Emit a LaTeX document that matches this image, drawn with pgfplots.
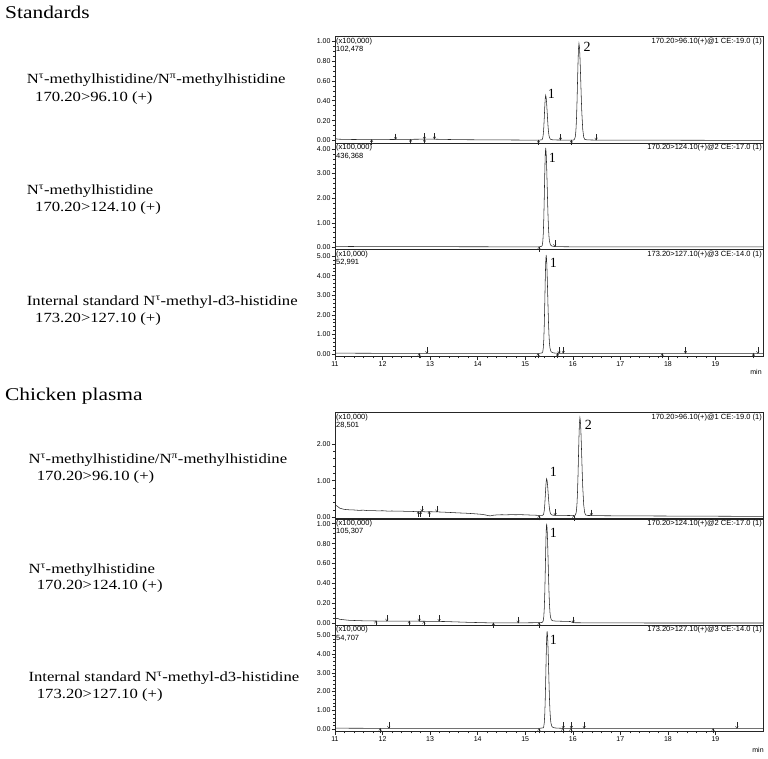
\documentclass[border=0pt]{standalone}
\usepackage{fontspec}
\setmainfont{Liberation Serif}[FakeStretch=1.19]
\newfontfamily\plainserif{Liberation Serif}
\newfontfamily\sansf{Liberation Sans}
\usepackage{pgfplots}
\pgfplotsset{compat=1.18}

\pgfdeclareplotmark{darr}{%
  \pgfpathmoveto{\pgfqpoint{0pt}{6pt}}\pgfpathlineto{\pgfqpoint{0pt}{0.2pt}}\pgfusepathqstroke
  \pgfpathmoveto{\pgfqpoint{-1.3pt}{2.3pt}}\pgfpathlineto{\pgfqpoint{0pt}{0pt}}\pgfpathlineto{\pgfqpoint{1.3pt}{2.3pt}}\pgfusepathqstroke}
\pgfdeclareplotmark{uarr}{%
  \pgfpathmoveto{\pgfqpoint{0pt}{-5pt}}\pgfpathlineto{\pgfqpoint{0pt}{-0.2pt}}\pgfusepathqstroke
  \pgfpathmoveto{\pgfqpoint{-1.3pt}{-2.3pt}}\pgfpathlineto{\pgfqpoint{0pt}{0pt}}\pgfpathlineto{\pgfqpoint{1.3pt}{-2.3pt}}\pgfusepathqstroke}

\tikzset{
  curve/.style={black!85, line width=0.55pt},
  arr/.style={only marks, mark options={black!85, line width=0.4pt}},
  pk/.style={font=\plainserif\fontsize{14}{14}\selectfont, inner sep=0pt},
  tl/.style={font=\sansf\fontsize{7.5}{8.5}\selectfont, align=left, inner sep=1pt, anchor=north west},
  tr/.style={font=\sansf\fontsize{7.5}{8.5}\selectfont, inner sep=1pt, anchor=north east},
  lab/.style={anchor=base west, inner sep=0pt, font=\fontsize{14}{14}\selectfont},
  ttl/.style={anchor=base west, inner sep=0pt, font=\fontsize{18}{18}\selectfont},
}
\pgfplotsset{
  chrom/.style={
    scale only axis, width=428pt, height=106.3pt, xmin=11, xmax=20,
    anchor=south west, clip=false,
    axis line style={black!85, line width=0.5pt},
    tick align=outside, ytick pos=left, xtick pos=bottom,
    major tick length=3.5pt, minor tick length=1.8pt,
    every tick/.style={black!85, line width=0.4pt},
    /pgf/number format/assume math mode=true,
    yticklabel style={font=\sansf\fontsize{7}{8}\selectfont, inner sep=0.8pt,
      /pgf/number format/.cd, fixed, fixed zerofill, precision=2},
    xtick=\empty,
  },
  bottomx/.style={
    xtick={11,12,...,19}, minor x tick num=4,
    xticklabel style={font=\sansf\fontsize{7}{8}\selectfont, inner sep=1.5pt},
  },
}

\begin{document}
\begin{tikzpicture}
\useasboundingbox (0,0) rectangle (768pt,758pt);

% ---------- left labels ----------
\node[ttl] at (5pt,739.7pt) {Standards};
\node[lab] at (26.7pt,674pt) {N\textsuperscript{τ}-methylhistidine/N\textsuperscript{π}-methylhistidine};
\node[lab] at (35pt,656.3pt) {170.20>96.10 (+)};
\node[lab] at (26.7pt,563pt) {N\textsuperscript{τ}-methylhistidine};
\node[lab] at (35pt,546.3pt) {170.20>124.10 (+)};
\node[lab] at (26.7pt,452pt) {Internal standard N\textsuperscript{τ}-methyl-d3-histidine};
\node[lab] at (35pt,435.3pt) {173.20>127.10 (+)};

\node[ttl] at (5pt,357pt) {Chicken plasma};
\node[lab] at (28.3pt,294.7pt) {N\textsuperscript{τ}-methylhistidine/N\textsuperscript{π}-methylhistidine};
\node[lab] at (36.7pt,277pt) {170.20>96.10 (+)};
\node[lab] at (28.3pt,184.7pt) {N\textsuperscript{τ}-methylhistidine};
\node[lab] at (36.7pt,168pt) {170.20>124.10 (+)};
\node[lab] at (28.3pt,76.3pt) {Internal standard N\textsuperscript{τ}-methyl-d3-histidine};
\node[lab] at (36.7pt,59.7pt) {173.20>127.10 (+)};

% ---------- Panel 1 ----------
\begin{axis}[chrom, at={(335pt,615pt)}, ymin=-0.0251, ymax=1.0432,
  ytick={0,0.2,0.4,0.6,0.8,1.0}, minor y tick num=3]
\addplot[curve] coordinates {
(11.00,0.020)(11.03,0.016)(11.08,0.013)(11.2,0.011)(11.4,0.010)(11.6,0.009)(11.8,0.009)(12.0,0.009)
(12.2,0.010)(12.4,0.011)(12.6,0.012)(12.8,0.013)(13.0,0.014)(13.2,0.012)(13.4,0.010)(13.7,0.008)
(14.0,0.007)(14.4,0.006)(14.8,0.005)(15.1,0.004)(15.3,0.004)
(15.35,0.007)(15.36,0.013)(15.37,0.029)(15.38,0.065)(15.39,0.129)(15.40,0.223)(15.41,0.331)
(15.42,0.419)(15.43,0.454)(15.44,0.432)(15.45,0.375)(15.46,0.297)(15.47,0.214)(15.48,0.141)
(15.49,0.086)(15.50,0.050)(15.51,0.029)(15.53,0.013)(15.56,0.008)(15.60,0.006)(15.68,0.005)
(15.80,0.004)(16.00,0.004)
(16.03,0.008)(16.05,0.031)(16.06,0.068)(16.07,0.135)(16.08,0.245)(16.09,0.403)(16.10,0.593)
(16.11,0.781)(16.12,0.922)(16.13,0.974)(16.14,0.941)(16.15,0.849)(16.16,0.714)(16.17,0.562)
(16.18,0.412)(16.19,0.283)(16.21,0.110)(16.23,0.034)(16.25,0.012)(16.30,0.006)(16.50,0.004)
(17.0,0.003)(18.0,0.003)(19.0,0.002)(20.0,0.002)};
\addplot[arr, mark=darr] coordinates {(12.275,0.010)(12.88,0.013)(13.09,0.014)(15.74,0.004)(16.49,0.004)};
\addplot[arr, mark=uarr] coordinates {(11.77,0.009)(12.59,0.012)(12.88,0.013)(15.28,0.004)(15.97,0.004)};
\node[pk] at (axis cs:15.55,0.47) {1};
\node[pk] at (axis cs:16.30,0.94) {2};
\node[tl] at (rel axis cs:0,1) {(x100,000)\\102,478};
\node[tr] at (rel axis cs:1,1) {170.20>96.10(+)@1 CE:-19.0 (1)};
\end{axis}

% ---------- Panel 2 ----------
\begin{axis}[chrom, at={(335pt,508.7pt)}, ymin=-0.081, ymax=4.244,
  ytick={0,1,2,3,4}, minor y tick num=4]
\addplot[curve] coordinates {
(11.00,0.045)(11.05,0.040)(11.2,0.035)(11.5,0.030)(12,0.028)(12.5,0.026)(13,0.025)(13.5,0.024)
(14,0.022)(14.5,0.021)(15,0.020)(15.3,0.020)
(15.35,0.044)(15.36,0.100)(15.37,0.245)(15.38,0.563)(15.39,1.138)(15.40,1.978)(15.41,2.938)
(15.42,3.730)(15.43,4.040)(15.44,3.847)(15.45,3.337)(15.46,2.633)(15.47,1.893)(15.48,1.246)
(15.49,0.756)(15.50,0.434)(15.51,0.245)(15.53,0.100)(15.56,0.052)(15.60,0.036)(15.68,0.026)
(16.0,0.020)(17,0.018)(18,0.016)(19,0.015)(20,0.015)};
\addplot[arr, mark=darr] coordinates {(15.62,0.034)};
\addplot[arr, mark=uarr] coordinates {(15.29,0.020)};
\node[pk] at (axis cs:15.57,3.63) {1};
\node[tl] at (rel axis cs:0,1) {(x100,000)\\436,368};
\node[tr] at (rel axis cs:1,1) {170.20>124.10(+)@2 CE:-17.0 (1)};
\end{axis}

% ---------- Panel 3 ----------
\begin{axis}[chrom, bottomx, at={(335pt,401.5pt)}, height=107pt, ymin=-0.128, ymax=5.332,
  ytick={0,1,2,3,4,5}, minor y tick num=4]
\addplot[curve] coordinates {
(11,0.045)(11.5,0.038)(12,0.035)(13,0.034)(14,0.033)(15,0.032)(15.3,0.032)
(15.36,0.060)(15.37,0.130)(15.38,0.311)(15.39,0.708)(15.40,1.426)(15.41,2.475)(15.42,3.675)
(15.43,4.663)(15.44,5.050)(15.45,4.809)(15.46,4.172)(15.47,3.293)(15.48,2.369)(15.49,1.561)
(15.50,0.949)(15.51,0.547)(15.52,0.311)(15.54,0.130)(15.57,0.070)(15.61,0.050)(15.69,0.038)
(15.8,0.035)(16.5,0.032)(17.5,0.031)(18.5,0.030)(19.5,0.030)(20,0.030)};
\addplot[arr, mark=darr] coordinates {(12.93,0.034)(15.71,0.038)(15.80,0.035)(18.37,0.030)(19.89,0.030)};
\addplot[arr, mark=uarr] coordinates {(12.77,0.034)(15.27,0.032)(15.68,0.038)(17.88,0.030)(19.80,0.030)};
\node[pk] at (axis cs:15.59,4.63) {1};
\node[tl] at (rel axis cs:0,1) {(x10,000)\\52,991};
\node[tr] at (rel axis cs:1,1) {173.20>127.10(+)@3 CE:-14.0 (1)};
\end{axis}
\node[font=\sansf\fontsize{7}{8}\selectfont] at (756pt,386pt) {min};

% ---------- Panel 4 ----------
\begin{axis}[chrom, at={(335pt,239pt)}, ymin=-0.046, ymax=2.854,
  ytick={0,1,2}, minor y tick num=4]
\addplot[curve] coordinates {
(11.00,0.30)(11.03,0.32)(11.06,0.29)(11.10,0.25)(11.15,0.23)(11.2,0.215)(11.3,0.205)(11.4,0.20)
(11.5,0.19)(11.6,0.195)(11.7,0.18)(11.8,0.185)(11.9,0.175)(12.0,0.18)(12.1,0.17)(12.2,0.172)
(12.3,0.168)(12.4,0.17)(12.5,0.16)(12.6,0.162)(12.7,0.155)(12.8,0.158)(12.9,0.15)(13.0,0.152)
(13.1,0.15)(13.2,0.145)(13.3,0.14)(13.45,0.13)(13.6,0.12)(13.75,0.112)(13.9,0.10)(14.0,0.09)
(14.1,0.08)(14.18,0.06)(14.22,0.045)(14.27,0.04)(14.32,0.055)(14.4,0.065)(14.5,0.07)(14.6,0.068)
(14.7,0.072)(14.8,0.07)(14.9,0.072)(15.0,0.068)(15.1,0.062)(15.2,0.058)(15.3,0.052)
(15.37,0.056)(15.38,0.070)(15.39,0.106)(15.40,0.185)(15.41,0.328)(15.42,0.537)(15.43,0.776)
(15.44,0.973)(15.45,1.050)(15.46,1.002)(15.47,0.875)(15.48,0.700)(15.49,0.516)(15.50,0.355)
(15.51,0.233)(15.52,0.153)(15.53,0.106)(15.55,0.070)(15.58,0.058)(15.62,0.054)(15.70,0.052)
(15.9,0.050)(16.0,0.047)
(16.05,0.056)(16.07,0.120)(16.08,0.221)(16.09,0.405)(16.10,0.710)(16.11,1.142)(16.12,1.666)
(16.13,2.184)(16.14,2.571)(16.15,2.715)(16.16,2.624)(16.17,2.371)(16.18,1.999)(16.19,1.580)
(16.20,1.169)(16.21,0.811)(16.23,0.336)(16.25,0.128)(16.27,0.064)(16.32,0.050)(16.5,0.045)
(17,0.040)(18,0.035)(19,0.030)(20,0.025)};
\addplot[arr, mark=darr] coordinates {(12.83,0.158)(13.14,0.150)(15.63,0.054)(16.39,0.048)};
\addplot[arr, mark=uarr] coordinates {(12.75,0.156)(12.80,0.157)(12.98,0.152)(15.29,0.052)(16.02,0.047)};
\node[pk] at (axis cs:15.59,1.23) {1};
\node[pk] at (axis cs:16.33,2.51) {2};
\node[tl] at (rel axis cs:0,1) {(x10,000)\\28,501};
\node[tr] at (rel axis cs:1,1) {170.20>96.10(+)@1 CE:-19.0 (1)};
\end{axis}

% ---------- Panel 5 ----------
\begin{axis}[chrom, at={(335pt,133pt)}, ymin=-0.017, ymax=1.050,
  ytick={0,0.2,0.4,0.6,0.8,1.0}, minor y tick num=3]
\addplot[curve] coordinates {
(11.00,0.045)(11.05,0.050)(11.1,0.040)(11.3,0.030)(11.6,0.025)(12.0,0.022)(12.5,0.022)(13.0,0.020)
(13.3,0.018)(13.8,0.010)(14.3,0.004)(14.8,0.004)(15.2,0.006)(15.35,0.008)
(15.37,0.016)(15.38,0.030)(15.39,0.065)(15.40,0.144)(15.41,0.285)(15.42,0.492)(15.43,0.729)
(15.44,0.924)(15.45,1.000)(15.46,0.952)(15.47,0.827)(15.48,0.654)(15.49,0.471)(15.50,0.312)
(15.51,0.191)(15.52,0.112)(15.53,0.065)(15.55,0.034)(15.58,0.025)(15.65,0.022)(15.8,0.020)
(15.95,0.018)(16.0,0.006)(16.5,0.004)(18,0.003)(20,0.003)};
\addplot[arr, mark=darr] coordinates {(12.09,0.022)(12.77,0.021)(13.19,0.019)(14.85,0.004)(16.01,0.006)};
\addplot[arr, mark=uarr] coordinates {(11.86,0.023)(12.56,0.022)(12.87,0.020)(14.33,0.004)(15.29,0.007)};
\node[pk] at (axis cs:15.59,0.91) {1};
\node[tl] at (rel axis cs:0,1) {(x100,000)\\105,307};
\node[tr] at (rel axis cs:1,1) {170.20>124.10(+)@2 CE:-17.0 (1)};
\end{axis}

% ---------- Panel 6 ----------
\begin{axis}[chrom, bottomx, at={(335pt,26.4pt)}, ymin=-0.122, ymax=5.513,
  ytick={0,1,2,3,4,5}, minor y tick num=4]
\addplot[curve] coordinates {
(11,0.060)(11.5,0.055)(12,0.052)(13,0.050)(14,0.050)(15,0.050)(15.3,0.050)
(15.38,0.081)(15.39,0.153)(15.40,0.338)(15.41,0.745)(15.42,1.482)(15.43,2.558)(15.44,3.789)
(15.45,4.803)(15.46,5.200)(15.47,4.953)(15.48,4.299)(15.49,3.398)(15.50,2.450)(15.51,1.621)
(15.52,0.992)(15.53,0.580)(15.54,0.338)(15.56,0.153)(15.59,0.091)(15.63,0.071)(15.71,0.058)
(15.8,0.050)(16.5,0.048)(17.5,0.046)(18.5,0.045)(19.5,0.045)(20,0.045)};
\addplot[arr, mark=darr] coordinates {(12.13,0.052)(15.80,0.050)(15.97,0.049)(16.24,0.049)(19.45,0.045)};
\addplot[arr, mark=uarr] coordinates {(11.95,0.052)(15.29,0.050)(15.79,0.050)(15.96,0.049)(18.95,0.045)};
\node[pk] at (axis cs:15.59,4.72) {1};
\node[tl] at (rel axis cs:0,1) {(x10,000)\\54,707};
\node[tr] at (rel axis cs:1,1) {173.20>127.10(+)@3 CE:-14.0 (1)};
\end{axis}
\node[font=\sansf\fontsize{7}{8}\selectfont] at (758pt,8pt) {min};

\end{tikzpicture}
\end{document}
